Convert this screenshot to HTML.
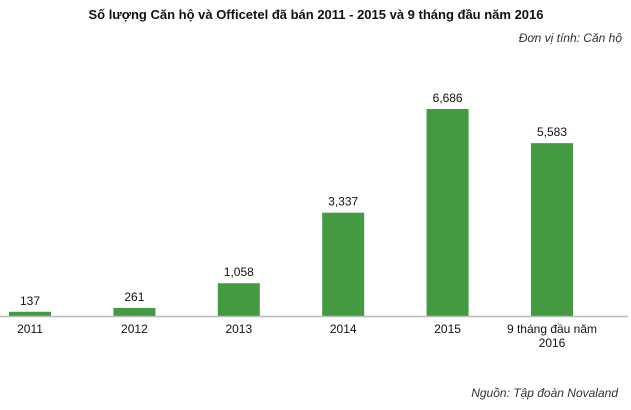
<!DOCTYPE html>
<html><head><meta charset="utf-8"><style>
body{margin:0;background:#fff;width:631px;height:405px;overflow:hidden;font-family:"Liberation Sans",sans-serif}
</style></head><body>
<svg width="631" height="405" xmlns="http://www.w3.org/2000/svg" font-family="Liberation Sans, sans-serif">
<text x="316" y="19" text-anchor="middle" font-size="13" font-weight="bold" fill="#111">Số lượng Căn hộ và Officetel đã bán 2011 - 2015 và 9 tháng đầu năm 2016</text>
<text x="622" y="42" text-anchor="end" font-size="12" font-style="italic" fill="#333">Đơn vị tính: Căn hộ</text>
<g id="bars"></g>
<line x1="0" y1="316.5" x2="628" y2="316.5" stroke="#bbb" stroke-width="1.5"/>
<text x="618" y="397" text-anchor="end" font-size="12" font-style="italic" fill="#333">Nguồn: Tập đoàn Novaland</text>
</svg>
<script>
const categories=["2011","2012","2013","2014","2015","9 tháng đầu năm|2016"];
const values=[137,261,1058,3337,6686,5583];
const valueLabels=["137","261","1,058","3,337","6,686","5,583"];
const g=document.getElementById('bars');
const ns="http://www.w3.org/2000/svg";
const base=316, yScale=v=>base-v*(base-109)/6686;
const xCenter=i=>30+i*104.4, bw=42;
values.forEach((v,i)=>{
  const r=document.createElementNS(ns,'rect');
  
  
  r.setAttribute('x',xCenter(i)-bw/2);r.setAttribute('y',yScale(v));
  r.setAttribute('width',bw);r.setAttribute('height',base-yScale(v));
  r.setAttribute('fill','#449a40');g.appendChild(r);
  const t=document.createElementNS(ns,'text');
  
  
  t.setAttribute('x',xCenter(i));t.setAttribute('y',yScale(v)-7);
  t.setAttribute('text-anchor','middle');t.setAttribute('font-size','12');t.setAttribute('fill','#111');
  t.textContent=valueLabels[i];g.appendChild(t);
  categories[i].split('|').forEach((line,j)=>{
    const c=document.createElementNS(ns,'text');
    
    
    c.setAttribute('x',xCenter(i));c.setAttribute('y',333+j*14);
    c.setAttribute('text-anchor','middle');c.setAttribute('font-size','12');c.setAttribute('fill','#111');
    c.textContent=line;g.appendChild(c);
  });
});
</script>
</body></html>
